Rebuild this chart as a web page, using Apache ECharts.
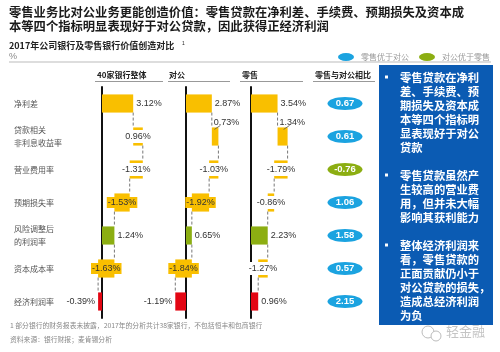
<!DOCTYPE html>
<html>
<head>
<meta charset="utf-8">
<script src="https://cdn.jsdelivr.net/npm/echarts@6.0.0/dist/echarts.min.js"></script>
<style>
html,body{margin:0;padding:0;background:#fff;}
#main{width:500px;height:352px;}
</style>
</head>
<body>
<div id="main"></div>
<script>
// 数据
var rows = ['净利差','贷款相关\n非利息收益率','营业费用率','预期损失率','风险调整后\n的利润率','资本成本率','经济利润率'];
var rowKind = ['start','step','step','step','subtotal','step','result'];
var allBanks = [3.12, 0.96, -1.31, -1.53, 1.24, -1.63, -0.39];
var corporate = [2.87, 0.73, -1.03, -1.92, 0.65, -1.84, -1.19];
var retail = [3.54, 1.34, -1.79, -0.86, 2.23, -1.27, 0.96];
var ratio = [0.67, 0.61, -0.76, 1.06, 1.58, 0.57, 2.15];
var panelNames = ['40家银行整体','对公','零售','零售与对公相比'];
var legendNames = ['零售优于对公','对公优于零售'];

var YELLOW='#F9BF00', GREEN='#8CAE12', RED='#E30613', CYAN='#1BA3E0', BLUE='#0B5BB3';
var CJK="'Noto Sans CJK SC', sans-serif";
var NUM="'Liberation Sans', Arial, sans-serif";

// 瀑布图起止
function waterfall(vals){
	var out=[], run=0;
	for(var i=0;i<vals.length;i++){
		var s,e;
		if(rowKind[i]=='step'){ s=run; e=run+vals[i]; }
		else { s=0; e=vals[i]; }
		run=e;
		out.push([s,e,i,vals[i]]);
	}
	return out;
}

function makeRender(upLabel){
	return function(params, api){
		var s=api.value(0), e=api.value(1), idx=api.value(2), v=api.value(3);
		var p0=api.coord([s, idx]), p1=api.coord([e, idx]);
		var h=api.size([0,1])[1]*0.55;
		var x0=Math.min(p0[0],p1[0]), w=Math.abs(p1[0]-p0[0]);
		var top=p0[1]-h/2;
		var kind=rowKind[idx];
		var color = kind=='subtotal' ? GREEN : (kind=='result' ? RED : YELLOW);
		var children=[{type:'rect', shape:{x:x0,y:top,width:w,height:h}, style:{fill:color}}];
		if(idx<rows.length-1){
			var pn=api.coord([e, idx+1]);
			children.push({type:'line', shape:{x1:p1[0],y1:p1[1]+h/2,x2:p1[0],y2:pn[1]-h/2},
				style:{stroke:'#777',lineWidth:1,lineDash:[3,2]}});
		}
		var txt=v.toFixed(2)+'%';
		var ts={text:txt, fill:'#333', fontSize:9, fontFamily:NUM};
		if(kind!='step'){
			ts.x = v>=0 ? p1[0]+3 : p1[0]-3;
			ts.y = p1[1];
			ts.align = v>=0 ? 'left' : 'right';
			ts.verticalAlign='middle';
		}
		else if(v>0 && upLabel){
			ts.x=p0[0]+2; ts.y=top-5; ts.align='left'; ts.verticalAlign='middle';
			children.push({type:'line', shape:{x1:p1[0]+2,y1:top-2,x2:p1[0]-4,y2:top+2},
				style:{stroke:'#555',lineWidth:0.8}});
		}
		else{
			ts.x=(p0[0]+p1[0])/2; ts.y=p0[1]; ts.align='center'; ts.verticalAlign='middle';
			if(w>=14){ ts.backgroundColor=YELLOW; ts.padding=[1,1]; }
			else { ts.backgroundColor='#fff'; ts.padding=[2,1]; }
		}
		children.push({type:'text', style:ts});
		return {type:'group', children:children};
	};
}

function renderRatio(params, api){
	var idx=api.value(1), v=api.value(2);
	var p=api.coord([0.5, idx]);
	return {type:'group', children:[
		{type:'ellipse', shape:{cx:p[0],cy:p[1],rx:17.5,ry:6.5}, style:{fill:api.visual('color')}},
		{type:'text', style:{text:v.toFixed(2), x:p[0], y:p[1], align:'center', verticalAlign:'middle',
			fill:'#fff', fontSize:9.5, fontWeight:'bold', fontFamily:NUM}}
	]};
}

var panels=[
	{data:allBanks, min:-1, max:5, left:92, width:60, up:false},
	{data:corporate, min:-2, max:4, left:168, width:54, up:true},
	{data:retail, min:-1, max:5, left:243.5, width:45, up:true}
];

var myChart = echarts.init(document.getElementById('main'));
var option = {
	animation:false,
	textStyle:{fontFamily:CJK},
	legend:{
		data:legendNames, right:10, top:53, padding:0, itemWidth:20, itemHeight:8, itemGap:10,
		icon:'path://M0,5A10,5,0,1,1,20,5A10,5,0,1,1,0,5Z',
		textStyle:{fontSize:8, color:'#999', fontFamily:CJK}
	},
	grid:[], xAxis:[], yAxis:[], series:[],
	graphic:[]
};

for(var i=0;i<panels.length;i++){
	var pc=panels[i];
	option.grid.push({left:pc.left, width:pc.width, top:87, height:231});
	option.xAxis.push({type:'value', gridIndex:i, min:pc.min, max:pc.max, show:false});
	option.yAxis.push({type:'category', gridIndex:i, data:rows, inverse:true,
		axisLine:{show:true, onZero:true, lineStyle:{color:'#111', width:2}},
		axisTick:{show:false}, axisLabel:{show:false}, splitLine:{show:false}});
	option.series.push({type:'custom', xAxisIndex:i, yAxisIndex:i,
		renderItem:makeRender(pc.up), encode:{x:[0,1], y:2}, data:waterfall(pc.data)});
}
// 对比列
option.grid.push({left:315, width:60, top:87, height:231});
option.xAxis.push({type:'value', gridIndex:3, min:0, max:1, show:false});
option.yAxis.push({type:'category', gridIndex:3, data:rows, inverse:true, show:false});
var better=[[],[]];
for(var i=0;i<ratio.length;i++){
	if(ratio[i]>=0) better[0].push([0.5,i,ratio[i]]);
	else better[1].push([0.5,i,ratio[i]]);
}
option.series.push({name:legendNames[0], type:'custom', xAxisIndex:3, yAxisIndex:3,
	itemStyle:{color:CYAN}, renderItem:renderRatio, encode:{x:0,y:1}, data:better[0]});
option.series.push({name:legendNames[1], type:'custom', xAxisIndex:3, yAxisIndex:3,
	itemStyle:{color:GREEN}, renderItem:renderRatio, encode:{x:0,y:1}, data:better[1]});
// 行标签
option.yAxis.push({type:'category', gridIndex:0, data:rows, inverse:true, position:'left',
	axisLine:{show:false}, axisTick:{show:false}, splitLine:{show:false},
	axisLabel:{align:'left', margin:78, fontSize:8, lineHeight:13, color:'#555', fontFamily:CJK}});

// 文本与装饰
var heads=[[97,95,163],[169,168,230],[242,240,303],[315,313,375]];
var g=option.graphic;
g.push({type:'text', left:9, top:6, style:{text:'零售业务比对公业务更能创造价值：零售贷款在净利差、手续费、预期损失及资本成\n本等四个指标明显表现好于对公贷款，因此获得正经济利润',
	fontSize:12.3, lineHeight:13.5, fontWeight:'bold', fill:'#1a1a1a', fontFamily:CJK}});
g.push({type:'text', left:9, top:41, style:{text:'2017年公司银行及零售银行价值创造对比', fontSize:9, fontWeight:'bold', fill:'#222', fontFamily:CJK}});
g.push({type:'text', left:182, top:41, style:{text:'1', fontSize:5, fill:'#222', fontFamily:NUM}});
g.push({type:'text', left:9, top:52, style:{text:'%', fontSize:9, fill:'#888', fontFamily:NUM}});
g.push({type:'line', shape:{x1:9,y1:62,x2:491,y2:62}, style:{stroke:'#bbb',lineWidth:1}});
for(var i=0;i<heads.length;i++){
	g.push({type:'text', left:heads[i][0], top:71, style:{text:panelNames[i], fontSize:8, fontWeight:'bold', fill:'#222', fontFamily:CJK}});
	g.push({type:'line', shape:{x1:heads[i][1],y1:81.5,x2:heads[i][2],y2:81.5}, style:{stroke:'#999',lineWidth:1}});
}
g.push({type:'rect', shape:{x:379,y:65,width:114,height:260}, style:{fill:BLUE}});
g.push({type:'text', left:400, top:71, style:{text:'零售贷款在净利\n差、手续费、预\n期损失及资本成\n本等四个指标明\n显表现好于对公\n贷款\n\n零售贷款虽然产\n生较高的营业费\n用，但并未大幅\n影响其获利能力\n\n整体经济利润来\n看，零售贷款的\n正面贡献仍小于\n对公贷款的损失，\n造成总经济利润\n为负',
	fontSize:11.3, lineHeight:14, fontWeight:'bold', fill:'#fff', fontFamily:CJK}});
var bullets=[77,175,245];
for(var i=0;i<bullets.length;i++){
	g.push({type:'rect', shape:{x:385,y:bullets[i]-1.5,width:3,height:3}, style:{fill:'#fff'}});
}
g.push({type:'text', left:10, top:322, style:{text:'1 部分银行的财务报表未披露，2017年的分析共计38家银行，不包括恒丰和包商银行', fontSize:6.8, fill:'#888', fontFamily:CJK}});
g.push({type:'text', left:10, top:336, style:{text:'资料来源：银行财报；麦肯锡分析', fontSize:6.8, fill:'#888', fontFamily:CJK}});
// 水印
g.push({type:'circle', shape:{cx:428,cy:332,r:6}, style:{fill:'#fff',stroke:'#bbb',lineWidth:1}});
g.push({type:'circle', shape:{cx:436,cy:336,r:5}, style:{fill:'#fff',stroke:'#bbb',lineWidth:1}});
g.push({type:'text', left:446, top:325, style:{text:'轻金融', fontSize:13, fill:'#c4c4c4', fontFamily:CJK}});

myChart.setOption(option);
</script>
</body>
</html>
